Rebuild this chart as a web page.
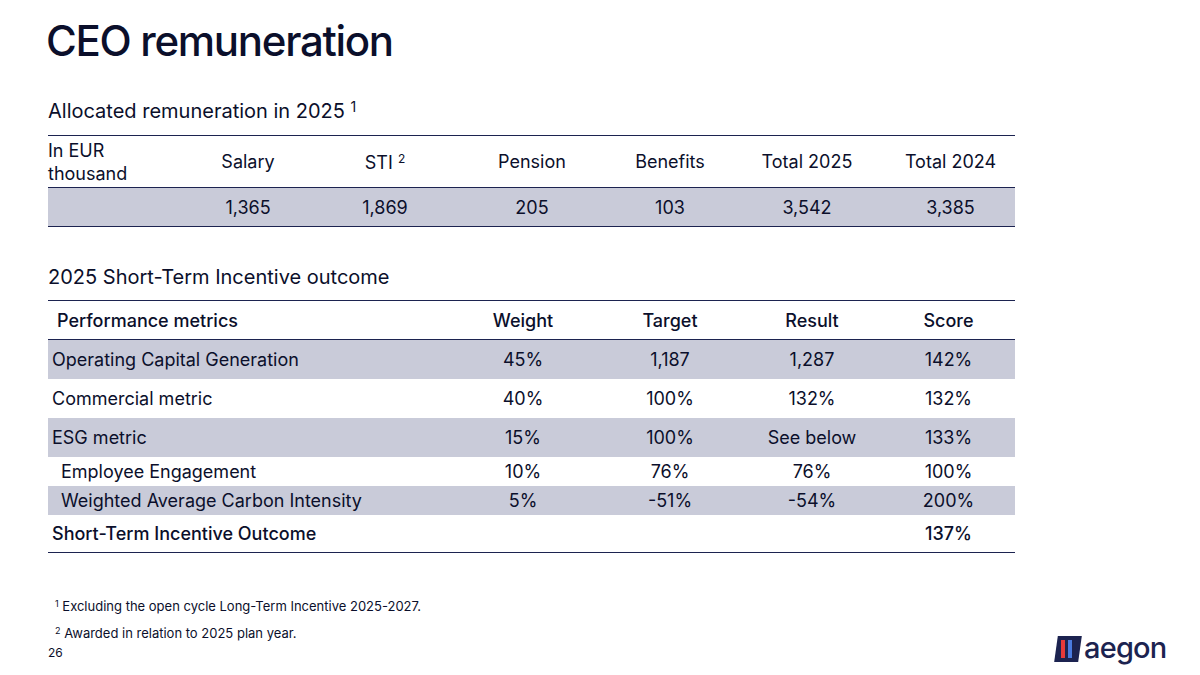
<!DOCTYPE html>
<html><head><meta charset="utf-8">
<script src="https://cdn.jsdelivr.net/npm/chart.js"></script>
<style>
body{margin:0;width:1200px;height:675px;background:#fff;font-family:Inter,"Noto Sans",sans-serif;color:#0b0f2b;position:relative;overflow:hidden}
.abs{position:absolute}
table{border-collapse:collapse;position:absolute;left:48px;width:967px;table-layout:fixed}
td{padding:0;white-space:nowrap;box-sizing:border-box}
.t1 td{text-align:center;font-size:18px}
.t2 td{font-size:18px}
.shade{background:#c9cbd9}
sup{font-size:12px;vertical-align:6px}
</style></head><body>
<div class="abs" style="left:46px;top:15px;font-size:42px;font-weight:500;letter-spacing:-1.3px">CEO remuneration</div>
<div class="abs" style="left:48px;top:98px;font-size:20px">Allocated remuneration in 2025 <sup style="font-size:14px">1</sup></div>
<table class="t1" id="t1" style="top:135px;border-top:1.5px solid #1c2350;border-bottom:1.5px solid #1c2350"></table>
<div class="abs" style="left:48px;top:265px;font-size:20px">2025 Short-Term Incentive outcome</div>
<table class="t2" id="t2" style="top:300px;border-top:1.5px solid #1c2350;border-bottom:1.5px solid #1c2350"></table>
<div class="abs" style="left:55px;top:598px;font-size:13px"><sup style="font-size:9px;vertical-align:4px">1</sup> Excluding the open cycle Long-Term Incentive 2025-2027.</div>
<div class="abs" style="left:55px;top:625px;font-size:13px"><sup style="font-size:9px;vertical-align:4px">2</sup> Awarded in relation to 2025 plan year.</div>
<div class="abs" style="left:48px;top:645px;font-size:12px">26</div>
<div class="abs" style="left:1056px;top:636px;width:24px;height:26px;background:#1c2350;transform:skewX(-8deg)"></div>
<div class="abs" style="left:1061px;top:640px;width:4px;height:18px;background:#e63a3a"></div>
<div class="abs" style="left:1068px;top:640px;width:4px;height:18px;background:#4a7be0"></div>
<div class="abs" style="left:1084px;top:630px;font-size:29px;font-weight:500;color:#1c2350;letter-spacing:-0.8px">aegon</div>
<script>
const remHeaders = ['Salary', 'STI <sup>2</sup>', 'Pension', 'Benefits', 'Total 2025', 'Total 2024'];
const remValues = ['1,365', '1,869', '205', '103', '3,542', '3,385'];
const remWidths = [130, 140, 134, 160, 116, 158, 129];

const stiHeaders = ['Performance metrics', 'Weight', 'Target', 'Result', 'Score'];
const stiRows = [
  ['Operating Capital Generation', '45%', '1,187', '1,287', '142%'],
  ['Commercial metric', '40%', '100%', '132%', '132%'],
  ['ESG metric', '15%', '100%', 'See below', '133%'],
  ['Employee Engagement', '10%', '76%', '76%', '100%'],
  ['Weighted Average Carbon Intensity', '5%', '-51%', '-54%', '200%'],
  ['Short-Term Incentive Outcome', '', '', '', '137%']
];
const stiShaded = [true, false, true, false, true, false];
const stiSub = [false, false, false, true, true, false];
const stiWidths = [400, 150, 144, 140, 133];

let t1 = document.getElementById('t1');
let h = '<tr style="height:52px;border-bottom:1.5px solid #1c2350"><td style="text-align:left;width:' + remWidths[0] + 'px;line-height:23px">In EUR<br>thousand</td>';
remHeaders.forEach((x, i) => h += '<td style="width:' + remWidths[i + 1] + 'px">' + x + '</td>');
h += '</tr><tr class="shade" style="height:39px"><td></td>';
remValues.forEach(v => h += '<td>' + v + '</td>');
t1.innerHTML = h + '</tr>';

let t2 = document.getElementById('t2');
let s = '<tr style="height:39px;border-bottom:1.5px solid #1c2350;font-size:18px;font-weight:500">';
stiHeaders.forEach((x, i) => s += '<td style="width:' + stiWidths[i] + 'px;text-align:' + (i ? 'center' : 'left') + ';padding-left:' + (i ? 0 : 9) + 'px">' + x + '</td>');
s += '</tr>';
stiRows.forEach((r, j) => {
  let last = j == stiRows.length - 1;
  s += '<tr class="' + (stiShaded[j] ? 'shade' : '') + '" style="height:' + (stiSub[j] ? 29 : (last ? 38 : 39)) + 'px;font-size:' + (stiSub[j] ? 16 : 18) + 'px;font-weight:' + (last ? 500 : 400) + '">';
  r.forEach((c, i) => s += '<td style="text-align:' + (i ? 'center' : 'left') + ';padding-left:' + (i ? 0 : (stiSub[j] ? 13 : 4)) + 'px">' + c + '</td>');
  s += '</tr>';
});
t2.innerHTML = s;
</script>
</body></html>
